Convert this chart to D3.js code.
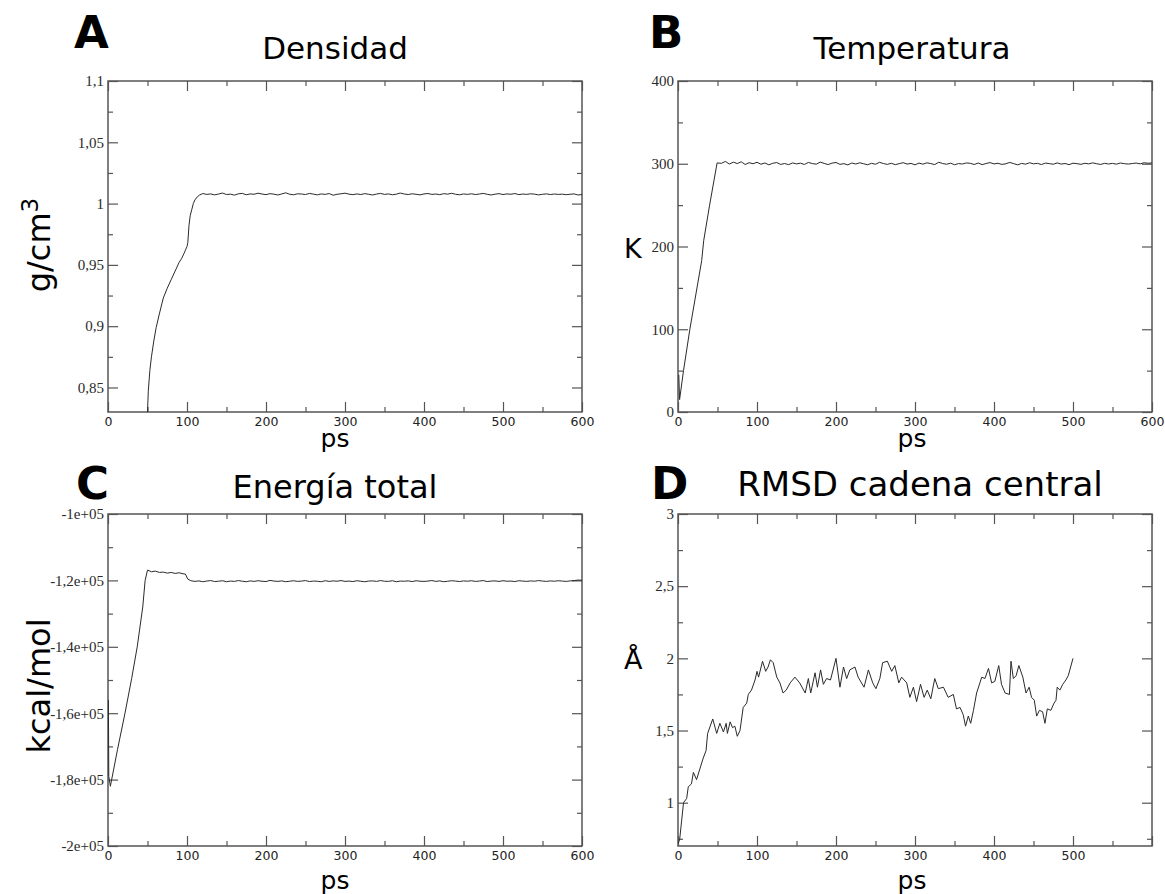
<!DOCTYPE html>
<html>
<head>
<meta charset="utf-8">
<script src="https://cdn.jsdelivr.net/npm/d3@7"></script>
<style>
  body { margin: 0; background: #fff; }
  svg { display: block; }
</style>
</head>
<body>
<svg id="fig" width="1165" height="894"></svg>
<script>
// ---- Densidad (g/cm3) ----
const densRampTime  = [50, 51, 53, 55, 58, 61, 65, 70, 75, 80, 85, 90, 93, 96, 98, 100, 101, 102.5, 104, 106, 108, 110, 113, 116];
const densRampValue = [0.830, 0.847, 0.864, 0.875, 0.888, 0.899, 0.910, 0.923, 0.931, 0.938, 0.945, 0.952, 0.955, 0.959, 0.962, 0.965, 0.968, 0.982, 0.990, 0.995, 1.000, 1.003, 1.0055, 1.007];
const densPlateauStart = 120, densPlateauStep = 5;
const densPlateauValue = [
  1.0082, 1.0075, 1.0079, 1.0071, 1.0078, 1.0086, 1.0074, 1.0077, 1.0069, 1.0080,
  1.0083, 1.0072, 1.0079, 1.0076, 1.0085, 1.0078, 1.0073, 1.0081, 1.0077, 1.0070,
  1.0079, 1.0088, 1.0076, 1.0072, 1.0080, 1.0078, 1.0074, 1.0083, 1.0077, 1.0071,
  1.0079, 1.0075, 1.0082, 1.0068, 1.0076, 1.0080, 1.0085, 1.0077, 1.0073, 1.0079,
  1.0074, 1.0081, 1.0076, 1.0070, 1.0078, 1.0083, 1.0075, 1.0079, 1.0072, 1.0077,
  1.0086, 1.0078, 1.0074, 1.0080, 1.0076, 1.0071, 1.0079, 1.0082, 1.0075, 1.0078,
  1.0073, 1.0081, 1.0077, 1.0084, 1.0076, 1.0072, 1.0079, 1.0075, 1.0080, 1.0074,
  1.0078, 1.0083, 1.0076, 1.0070, 1.0077, 1.0081, 1.0074, 1.0079, 1.0076, 1.0082,
  1.0073, 1.0078, 1.0075, 1.0080, 1.0077, 1.0071, 1.0076, 1.0079, 1.0074, 1.0078,
  1.0075, 1.0077, 1.0073, 1.0076, 1.0079, 1.0070, 1.0074
];
const densTicks = [0.85, 0.9, 0.95, 1, 1.05, 1.1];
const densTickLabels = ["0,85", "0,9", "0,95", "1", "1,05", "1,1"];
const densMinor = [0.875, 0.925, 0.975, 1.025, 1.075];

// ---- Temperatura (K) ----
const tempRampTime  = [1, 2, 7, 15, 30, 32.5, 40, 49.5];
const tempRampValue = [45, 15, 50, 100, 183, 207, 250, 301];
const tempPlateauStart = 55, tempPlateauStep = 5;
const tempPlateauValue = [
  300.5, 302.8, 299.6, 301.9, 300.2, 302.4, 299.1, 301.3, 300.0, 301.8,
  299.4, 300.9, 298.7, 300.6, 301.4, 299.2, 300.3, 298.9, 301.0, 299.8,
  300.7, 299.1, 301.6, 300.2, 299.5, 302.0, 300.4, 299.0, 300.8, 301.5,
  299.3, 300.1, 298.6, 300.9, 299.7, 301.2, 300.0, 298.8, 300.5, 299.4,
  301.7, 300.3, 299.2, 300.6, 298.9, 300.1, 301.3, 299.6, 300.4, 298.7,
  300.8, 299.5, 301.1, 300.2, 299.0, 301.8, 300.3, 299.4, 300.7, 298.8,
  300.2, 299.7, 301.0, 300.5, 299.1, 300.9, 298.9, 300.3, 301.4, 299.8,
  300.6, 299.2, 300.0, 301.6, 300.1, 298.7, 300.4, 299.5, 301.2, 299.9,
  300.5, 299.0, 300.8, 300.2, 299.4, 301.0, 299.6, 300.3, 298.9, 300.7,
  300.1, 299.3, 300.6, 299.8, 301.1, 300.0, 299.2, 300.5, 299.7, 300.4,
  299.5, 300.9, 300.1, 299.6, 300.3, 300.8, 299.9, 301.2, 300.6, 301.0
];
const tempTicks = [0, 100, 200, 300, 400];
const tempTickLabels = ["0", "100", "200", "300", "400"];
const tempMinor = [50, 150, 250, 350];

// ---- Energía total (kcal/mol) ----
const enerRampTime  = [0.5, 1, 3, 12, 21.5, 30, 37, 44, 47, 50, 55, 60, 65, 70, 75, 80, 85, 90, 95, 98, 101, 104];
const enerRampValue = [-156000, -179000, -182000, -171000, -160000, -149500, -140000, -128000, -120000, -116900,
                       -117400, -117200, -117600, -117500, -117800, -117600, -117900, -117700, -118000, -118100, -119600, -120000];
const enerPlateauStart = 105, enerPlateauStep = 5;
const enerPlateauValue = [
  -120100, -120300, -120150, -120400, -120200, -120050, -120350, -120250, -120100, -120400,
  -120200, -120300, -120050, -120250, -120400, -120150, -120300, -120100, -120250, -120350,
  -120000, -120200, -120300, -120150, -120400, -120250, -120100, -120300, -120200, -120050,
  -120350, -120200, -120250, -120400, -120100, -120300, -120150, -120250, -120050, -120300,
  -120200, -120350, -120100, -120250, -120400, -120200, -120150, -120300, -120050, -120250,
  -120300, -120100, -120400, -120200, -120250, -120150, -120350, -120100, -120250, -120300,
  -120200, -120050, -120300, -120150, -120400, -120250, -120100, -120200, -120350, -120150,
  -120250, -120100, -120300, -120200, -120050, -120350, -120200, -120150, -120300, -120100,
  -120250, -120200, -120350, -120100, -120200, -120300, -120150, -120250, -120050, -120200,
  -120300, -120150, -120250, -120100, -120200, -120300, -120150, -120050, -119900, -119950
];
const enerTicks = [-200000, -180000, -160000, -140000, -120000, -100000];
const enerTickLabels = ["-2e+05", "-1,8e+05", "-1,6e+05", "-1,4e+05", "-1,2e+05", "-1e+05"];
const enerMinor = [-190000, -170000, -150000, -130000, -110000];

// ---- RMSD cadena central (Å) ----
const rmsdTime = [
  0, 2, 7, 11, 13, 17, 19.5, 23.5, 28, 32,
  35.5, 37.5, 44, 49, 53, 57.5, 61, 62.5, 66, 69,
  72, 75, 78.5, 82.5, 87, 89, 93, 97.5, 100, 102,
  107, 111, 114, 117, 120.5, 125, 129, 133, 137, 142,
  148, 154, 161, 165, 168, 173.5, 176.5, 180.5, 184, 188,
  193, 200, 205, 209.5, 213.5, 217.5, 224, 228, 235.5, 241,
  246.5, 250.5, 255.5, 259, 265, 270.5, 274.5, 279.5, 283, 289.5,
  293.5, 298, 302, 307, 311.5, 315.5, 320, 325, 329.5, 336,
  342, 348.5, 352.5, 357, 361, 364, 367.5, 370.5, 374, 378,
  384.5, 388.5, 393, 397, 401, 406, 409.5, 414, 419.5, 421.5,
  424.5, 428, 431.5, 436.5, 440.5, 444.5, 447.5, 451, 454, 457.5,
  461.5, 464.5, 467.5, 472, 476, 478.5, 480, 483.5, 487, 491,
  494, 497, 500
];
const rmsdValue = [
  0.72, 0.74, 1.00, 1.03, 1.11, 1.13, 1.21, 1.16, 1.24, 1.31,
  1.36, 1.48, 1.58, 1.48, 1.55, 1.49, 1.55, 1.48, 1.56, 1.52,
  1.53, 1.46, 1.50, 1.66, 1.69, 1.75, 1.78, 1.85, 1.91, 1.87,
  1.98, 1.91, 1.94, 1.99, 1.97, 1.87, 1.83, 1.76, 1.78, 1.83,
  1.87, 1.83, 1.76, 1.86, 1.76, 1.90, 1.80, 1.92, 1.82, 1.86,
  1.85, 2.00, 1.80, 1.94, 1.86, 1.92, 1.94, 1.87, 1.80, 1.92,
  1.83, 1.79, 1.86, 1.97, 1.98, 1.91, 1.95, 1.83, 1.87, 1.83,
  1.73, 1.80, 1.70, 1.82, 1.73, 1.78, 1.72, 1.86, 1.79, 1.80,
  1.73, 1.75, 1.65, 1.66, 1.61, 1.53, 1.60, 1.55, 1.64, 1.76,
  1.87, 1.86, 1.93, 1.83, 1.84, 1.95, 1.82, 1.76, 1.75, 1.98,
  1.86, 1.88, 1.95, 1.87, 1.76, 1.80, 1.73, 1.71, 1.60, 1.64,
  1.63, 1.55, 1.65, 1.64, 1.69, 1.71, 1.80, 1.78, 1.82, 1.85,
  1.88, 1.94, 2.00
];
const rmsdTicks = [1, 1.5, 2, 2.5, 3];
const rmsdTickLabels = ["1", "1,5", "2", "2,5", "3"];
const rmsdMinor = [0.75, 1.25, 1.75, 2.25, 2.75];

// ---- shared time axis ----
const timeTicks = [0, 100, 200, 300, 400, 500, 600];
const timeMinor = [50, 150, 250, 350, 450, 550];

// helpers to turn the arrays into [t, value] points
const pairs = (ts, vs) => ts.map((t, i) => [t, vs[i]]);
const regular = (start, step, vs) => vs.map((v, i) => [start + i * step, v]);

const panels = [
  {
    letter: "A", letterPos: [74, 48], title: "Densidad", titlePos: [335, 59], titleSize: 31,
    box: [108, 81, 582, 412], yDomain: [0.83, 1.1],
    yTicks: densTicks, yLabels: densTickLabels, yMinor: densMinor,
    xLabelled: timeTicks,
    points: pairs(densRampTime, densRampValue).concat(regular(densPlateauStart, densPlateauStep, densPlateauValue)),
    xTitlePos: [335, 447], yTitle: "g/cm", yTitleSup: "3", yTitleRotated: true, yTitlePos: [50, 245]
  },
  {
    letter: "B", letterPos: [649, 48], title: "Temperatura", titlePos: [912, 59], titleSize: 31,
    box: [678, 81, 1152, 412], yDomain: [0, 400],
    yTicks: tempTicks, yLabels: tempTickLabels, yMinor: tempMinor,
    xLabelled: timeTicks,
    points: pairs(tempRampTime, tempRampValue).concat(regular(tempPlateauStart, tempPlateauStep, tempPlateauValue)),
    xTitlePos: [912, 447], yTitle: "K", yTitleRotated: false, yTitlePos: [624, 258]
  },
  {
    letter: "C", letterPos: [76, 499], title: "Energía total", titlePos: [335, 498], titleSize: 32,
    box: [108, 514, 582, 846], yDomain: [-200000, -100000],
    yTicks: enerTicks, yLabels: enerTickLabels, yMinor: enerMinor,
    xLabelled: timeTicks,
    points: pairs(enerRampTime, enerRampValue).concat(regular(enerPlateauStart, enerPlateauStep, enerPlateauValue)),
    xTitlePos: [335, 889], yTitle: "kcal/mol", yTitleRotated: true, yTitlePos: [50, 686]
  },
  {
    letter: "D", letterPos: [651, 499], title: "RMSD cadena central", titlePos: [920, 496], titleSize: 34,
    box: [678, 514, 1152, 846], yDomain: [0.7, 3],
    yTicks: rmsdTicks, yLabels: rmsdTickLabels, yMinor: rmsdMinor,
    xLabelled: [0, 100, 200, 300, 400, 500],
    points: pairs(rmsdTime, rmsdValue),
    xTitlePos: [912, 889], yTitle: "Å", yTitleRotated: false, yTitlePos: [624, 669]
  }
];

const svg = d3.select("#fig");
const frameColor = "#555";
const lineColor = "#2a2a2a";

panels.forEach((p, idx) => {
  const [x0, y0, x1, y1] = p.box;
  const x = d3.scaleLinear().domain([0, 600]).range([x0, x1]);
  const y = d3.scaleLinear().domain(p.yDomain).range([y1, y0]);
  const g = svg.append("g");

  // clip so the trace stays inside the frame
  const clipId = "clip" + idx;
  svg.append("clipPath").attr("id", clipId)
    .append("rect").attr("x", x0).attr("y", y0).attr("width", x1 - x0).attr("height", y1 - y0);

  // major / minor ticks on all four sides, pointing inward
  const addAxis = (axisFn, scale, values, size, transform, labels, pad) => {
    const ax = axisFn(scale).tickValues(values).tickSize(-size).tickPadding(pad || 0);
    if (labels) ax.tickFormat(labels); else ax.tickFormat("");
    const ga = g.append("g").attr("transform", transform).call(ax);
    ga.select(".domain").remove();
    ga.selectAll(".tick line").attr("stroke", frameColor).attr("stroke-width", 1.2);
    return ga;
  };

  const xMap = new Map(timeTicks.map(t => [t, String(t)]));
  const bottom = addAxis(d3.axisBottom, x, p.xLabelled, 10, `translate(0,${y1})`, d => xMap.get(d), 5);
  bottom.selectAll("text").attr("font-family", "DejaVu Sans").attr("font-size", 12.5).attr("fill", "#222");
  if (p.xLabelled.length < timeTicks.length) {
    addAxis(d3.axisBottom, x, timeTicks.filter(t => !p.xLabelled.includes(t)), 10, `translate(0,${y1})`, null);
  }
  addAxis(d3.axisBottom, x, timeMinor, 5, `translate(0,${y1})`, null);
  addAxis(d3.axisTop, x, timeTicks, 10, `translate(0,${y0})`, null);
  addAxis(d3.axisTop, x, timeMinor, 5, `translate(0,${y0})`, null);

  const yMap = new Map(p.yTicks.map((t, i) => [t, p.yLabels[i]]));
  const left = addAxis(d3.axisLeft, y, p.yTicks, 10, `translate(${x0},0)`, d => yMap.get(d), 4);
  left.selectAll("text").attr("font-family", "Liberation Serif").attr("font-size", 15).attr("fill", "#2a2a2a");
  addAxis(d3.axisLeft, y, p.yMinor, 5, `translate(${x0},0)`, null);
  addAxis(d3.axisRight, y, p.yTicks, 10, `translate(${x1},0)`, null);
  addAxis(d3.axisRight, y, p.yMinor, 5, `translate(${x1},0)`, null);

  // frame
  g.append("rect").attr("x", x0).attr("y", y0).attr("width", x1 - x0).attr("height", y1 - y0)
    .attr("fill", "none").attr("stroke", frameColor).attr("stroke-width", 1.5);

  // trace
  const line = d3.line().x(d => x(d[0])).y(d => y(d[1]));
  g.append("path").datum(p.points)
    .attr("clip-path", `url(#${clipId})`)
    .attr("d", line)
    .attr("fill", "none").attr("stroke", lineColor).attr("stroke-width", 1)
    .attr("stroke-linejoin", "round");

  // panel letter and title
  g.append("text").attr("x", p.letterPos[0]).attr("y", p.letterPos[1])
    .attr("font-family", "DejaVu Sans").attr("font-weight", "bold").attr("font-size", 45)
    .attr("fill", "#000").text(p.letter);
  g.append("text").attr("x", p.titlePos[0]).attr("y", p.titlePos[1]).attr("text-anchor", "middle")
    .attr("font-family", "DejaVu Sans").attr("font-size", p.titleSize).attr("fill", "#000").text(p.title);

  // x-axis title
  g.append("text").attr("x", p.xTitlePos[0]).attr("y", p.xTitlePos[1]).attr("text-anchor", "middle")
    .attr("font-family", "DejaVu Sans").attr("font-size", 25).attr("fill", "#000").text("ps");

  // y-axis title
  const yt = g.append("text").attr("font-family", "DejaVu Sans").attr("fill", "#000");
  if (p.yTitleRotated) {
    yt.attr("font-size", 32)
      .attr("transform", `translate(${p.yTitlePos[0]},${p.yTitlePos[1]}) rotate(-90)`)
      .attr("text-anchor", "middle");
  } else {
    yt.attr("font-size", 27).attr("x", p.yTitlePos[0]).attr("y", p.yTitlePos[1]);
  }
  yt.append("tspan").text(p.yTitle);
  if (p.yTitleSup) {
    yt.append("tspan").attr("font-size", 23).attr("dy", -12).text(p.yTitleSup);
  }
});
</script>
</body>
</html>
